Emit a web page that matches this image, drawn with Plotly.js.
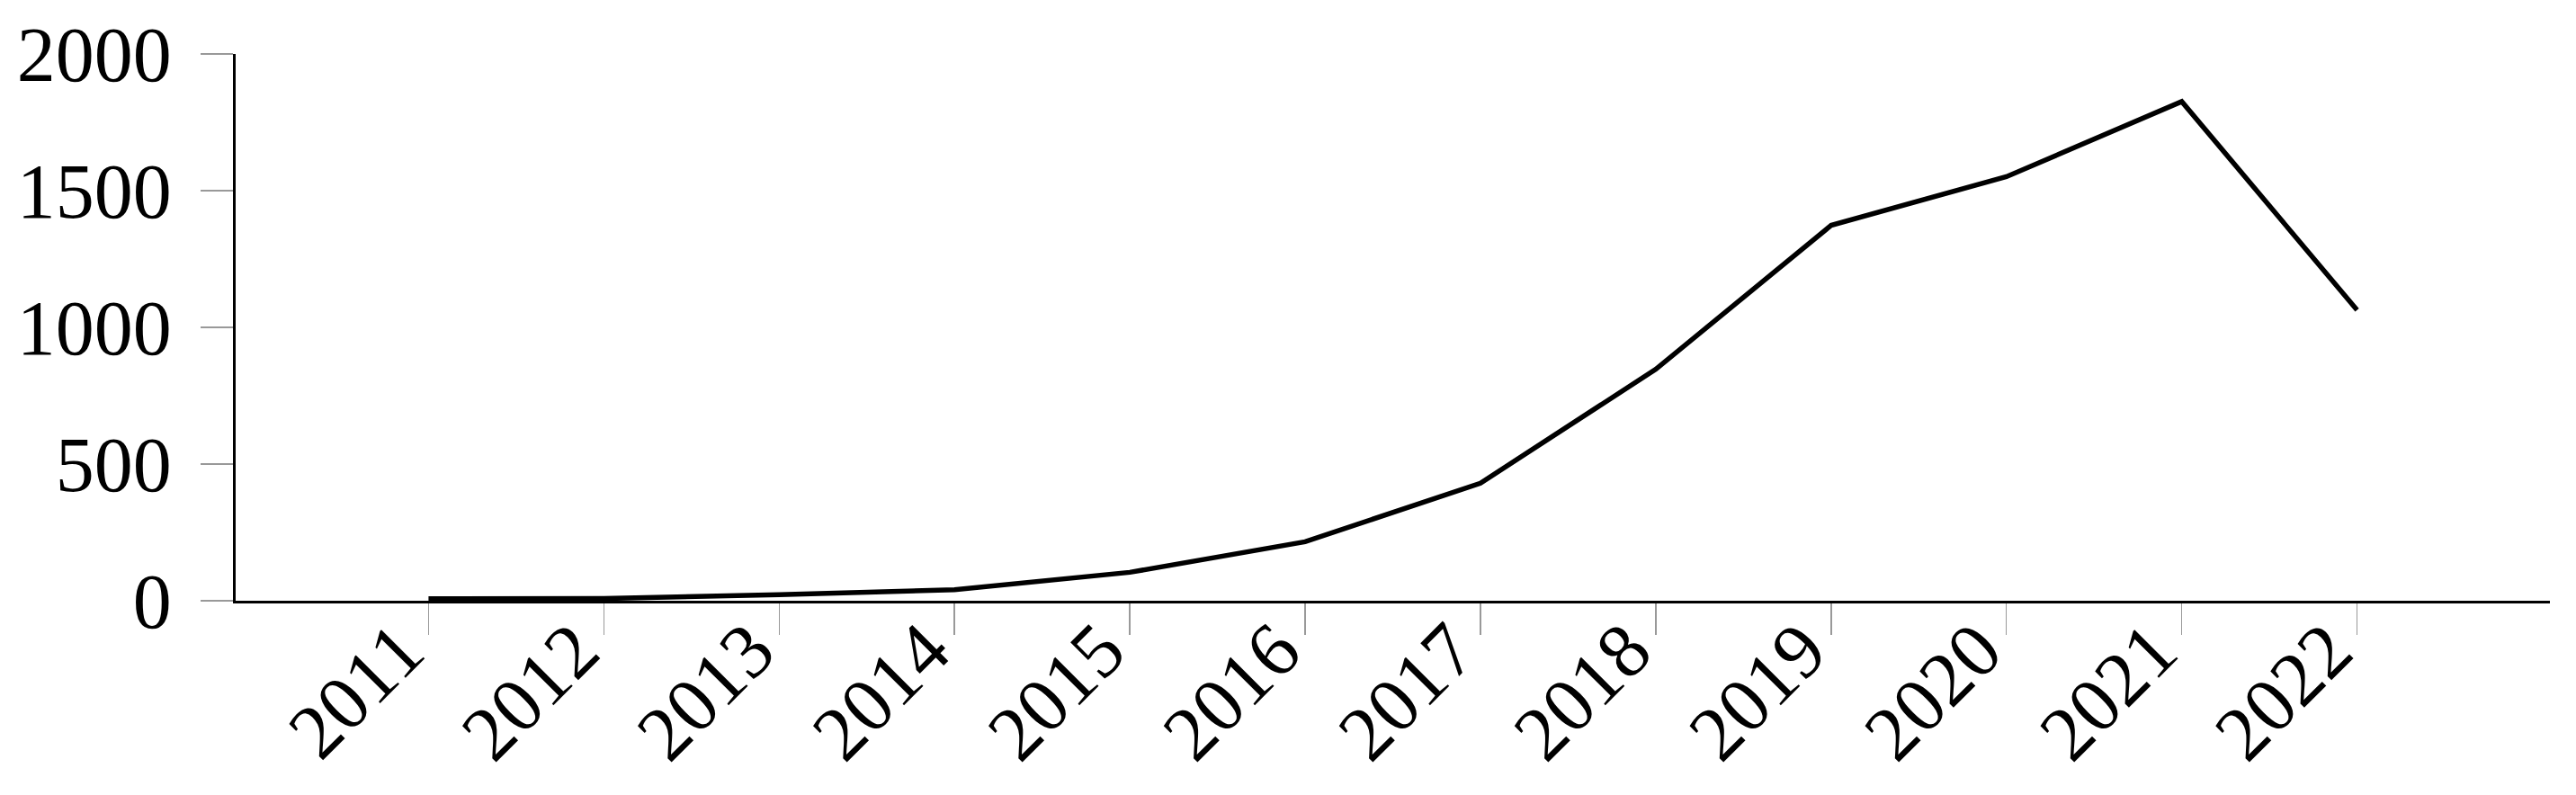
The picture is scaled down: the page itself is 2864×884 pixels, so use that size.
<!DOCTYPE html>
<html>
<head>
<meta charset="utf-8">
<script src="https://cdn.plot.ly/plotly-3.0.1.min.js"></script>
<style>
  html, body { margin: 0; padding: 0; background: #fff; }
  #chart { width: 2864px; height: 884px; }
</style>
</head>
<body>
<div id="chart"></div>
<script>
// yearly counts
const years = [2011, 2012, 2013, 2014, 2015, 2016, 2017, 2018, 2019, 2020, 2021, 2022];
const counts = [7, 8, 22, 40, 104, 216, 430, 847, 1373, 1551, 1826, 1063];
const yTicks = [0, 500, 1000, 1500, 2000];

const FONT = { family: '"Liberation Serif", "DejaVu Serif", serif', size: 86, color: '#000' };
const TICK = { ticks: 'outside', tickcolor: '#999', tickwidth: 1.5, showgrid: false, zeroline: false,
  showline: true, linecolor: '#000', linewidth: 3, tickfont: FONT };

Plotly.newPlot('chart', [{
  x: years, y: counts, type: 'scatter', mode: 'lines',
  line: { color: '#000', width: 5.5 }, hoverinfo: 'skip',
}], {
  width: 2864, height: 884,
  margin: { l: 262, r: 29, t: 60, b: 216 },
  paper_bgcolor: '#fff', plot_bgcolor: '#fff',
  showlegend: false,
  xaxis: Object.assign({}, TICK, {
    range: [2009.9, 2023.1], tickvals: years, ticktext: years.map(String),
    tickangle: -45, ticklen: 35, ticklabelstandoff: -68, ticklabelshift: -31,
  }),
  yaxis: Object.assign({}, TICK, {
    range: [0, 2000], tickvals: yTicks, ticktext: yTicks.map(String),
    ticklen: 36, ticklabelstandoff: 15,
  }),
}, { staticPlot: true, displayModeBar: false });
</script>
</body>
</html>
